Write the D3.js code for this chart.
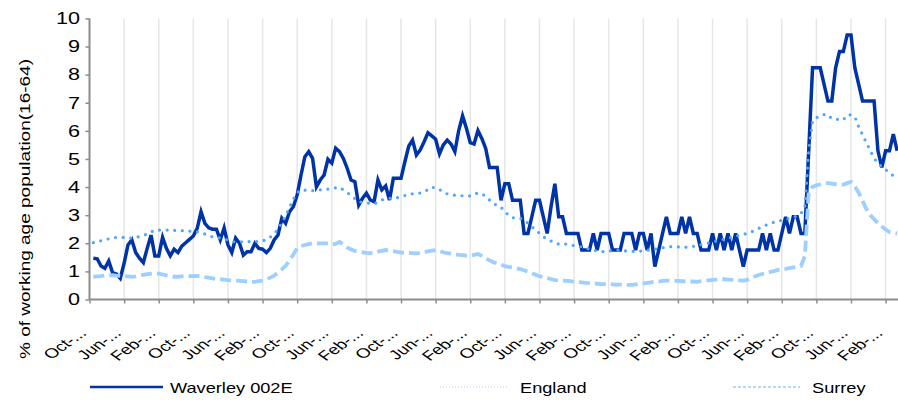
<!DOCTYPE html>
<html>
<head>
<meta charset="utf-8">
<script src="https://cdn.jsdelivr.net/npm/d3@7"></script>
<style>
  body { margin: 0; background: #fff; }
  text { font-family: "Liberation Sans", Arial, sans-serif; fill: #000; }
</style>
</head>
<body>
<svg id="chart" width="898" height="400"></svg>
<script>
// category tick labels (one every 9 points)
const tickLabels = ["Oct-...","Jun-...","Feb-...","Oct-...","Jun-...","Feb-...","Oct-...","Jun-...",
  "Feb-...","Oct-...","Jun-...","Feb-...","Oct-...","Jun-...","Feb-...","Oct-...",
  "Jun-...","Feb-...","Oct-...","Jun-...","Feb-...","Oct-...","Jun-...","Feb-..."];

const seriesNames = ["Waverley 002E", "England", "Surrey"];

const waverley = [1.47,1.45,1.19,1.11,1.37,0.95,0.91,0.75,1.29,1.94,
  2.12,1.67,1.47,1.31,1.82,2.29,1.55,1.55,2.21,1.82,
  1.55,1.79,1.67,1.90,2.02,2.14,2.26,2.53,3.12,2.71,
  2.55,2.50,2.50,2.12,2.55,1.94,1.67,2.18,2.00,1.58,
  1.70,1.70,2.00,1.82,1.79,1.67,1.82,2.12,2.29,2.89,
  2.71,3.12,3.30,3.72,4.43,5.08,5.26,5.02,4.01,4.25,
  4.43,4.99,4.85,5.38,5.26,5.02,4.67,4.25,4.19,3.36,
  3.60,3.78,3.54,3.48,4.25,3.90,4.04,3.54,4.31,4.31,
  4.31,4.90,5.45,5.67,5.14,5.32,5.61,5.93,5.82,5.70,
  5.18,5.50,5.67,5.53,5.26,6.01,6.53,6.09,5.58,5.53,
  6.01,5.73,5.38,4.70,4.70,4.70,3.53,4.12,4.12,3.53,
  3.53,3.53,2.35,2.35,2.94,3.53,3.53,2.94,2.35,3.30,
  4.12,2.94,2.94,2.35,2.35,2.35,2.35,1.76,1.76,1.76,
  2.35,1.76,2.35,2.35,2.35,1.76,1.76,1.76,2.35,2.35,
  2.35,1.76,2.35,2.35,1.76,2.35,1.17,1.76,2.35,2.94,
  2.35,2.35,2.35,2.94,2.35,2.94,2.35,2.35,1.76,1.76,
  1.76,2.35,1.76,2.35,1.76,2.35,1.76,2.35,1.76,1.17,
  1.76,1.76,1.76,1.76,2.35,1.76,2.35,1.76,1.76,2.35,
  2.94,2.35,2.94,2.94,2.35,2.35,5.29,8.24,8.24,8.24,
  7.65,7.06,7.06,8.24,8.82,8.82,9.41,9.41,8.24,7.65,
  7.06,7.06,7.06,7.06,5.29,4.70,5.29,5.29,5.88,5.29];

const england = [2.02,2.05,2.09,2.12,2.16,2.19,2.21,2.21,2.21,2.20,
  2.18,2.21,2.24,2.28,2.33,2.40,2.47,2.47,2.47,2.47,
  2.46,2.46,2.45,2.45,2.44,2.43,2.42,2.41,2.39,2.33,
  2.27,2.23,2.21,2.19,2.16,2.11,2.06,2.05,2.05,2.06,
  2.06,2.06,2.06,2.06,2.07,2.15,2.22,2.33,2.51,2.71,
  2.99,3.27,3.57,3.80,3.90,3.89,3.88,3.87,3.89,3.90,
  3.91,3.93,3.95,3.97,3.99,3.90,3.81,3.70,3.59,3.48,
  3.46,3.44,3.42,3.40,3.46,3.54,3.58,3.60,3.61,3.62,
  3.65,3.70,3.74,3.76,3.76,3.79,3.83,3.91,4.00,3.96,
  3.92,3.81,3.76,3.73,3.71,3.70,3.69,3.67,3.69,3.76,
  3.78,3.77,3.66,3.54,3.42,3.34,3.29,3.12,3.00,2.91,
  2.89,2.89,2.82,2.72,2.60,2.45,2.36,2.23,2.16,2.08,
  2.02,1.97,1.97,1.97,1.94,1.92,1.89,1.87,1.83,1.79,
  1.76,1.73,1.71,1.70,1.72,1.74,1.76,1.75,1.73,1.72,
  1.71,1.71,1.72,1.73,1.75,1.77,1.79,1.82,1.84,1.86,
  1.88,1.88,1.87,1.87,1.86,1.87,1.89,1.92,1.95,1.97,
  2.01,2.05,2.08,2.12,2.15,2.18,2.21,2.25,2.29,2.32,
  2.35,2.40,2.46,2.53,2.59,2.65,2.71,2.75,2.78,2.82,
  2.85,2.88,2.92,2.98,3.06,3.28,5.30,6.35,6.47,6.51,
  6.58,6.58,6.43,6.42,6.40,6.39,6.57,6.57,6.50,6.15,
  5.86,5.58,5.30,5.02,4.86,4.72,4.62,4.52,4.40,4.27];

const surrey = [0.81,0.82,0.83,0.85,0.86,0.87,0.85,0.84,0.83,0.82,
  0.81,0.82,0.85,0.88,0.90,0.92,0.94,0.92,0.89,0.86,
  0.83,0.81,0.81,0.82,0.82,0.83,0.83,0.84,0.83,0.80,
  0.78,0.75,0.73,0.72,0.71,0.69,0.68,0.67,0.66,0.65,
  0.64,0.63,0.63,0.65,0.67,0.71,0.78,0.85,0.96,1.07,
  1.20,1.40,1.60,1.82,1.90,1.94,1.97,2.00,2.00,2.00,
  2.00,2.00,1.96,1.98,2.05,1.96,1.85,1.78,1.73,1.69,
  1.68,1.66,1.65,1.66,1.70,1.73,1.76,1.74,1.72,1.69,
  1.67,1.67,1.66,1.65,1.64,1.65,1.68,1.71,1.74,1.76,
  1.72,1.68,1.65,1.63,1.61,1.59,1.58,1.56,1.56,1.59,
  1.62,1.55,1.47,1.39,1.33,1.28,1.24,1.19,1.16,1.14,
  1.11,1.08,1.04,0.99,0.94,0.88,0.83,0.79,0.76,0.73,
  0.69,0.68,0.67,0.66,0.65,0.63,0.62,0.61,0.59,0.58,
  0.57,0.56,0.55,0.55,0.54,0.54,0.53,0.53,0.53,0.52,
  0.52,0.54,0.56,0.57,0.59,0.61,0.63,0.64,0.66,0.67,
  0.67,0.66,0.66,0.65,0.65,0.64,0.64,0.63,0.65,0.66,
  0.68,0.70,0.71,0.72,0.72,0.71,0.70,0.69,0.68,0.67,
  0.70,0.76,0.82,0.87,0.91,0.94,0.98,1.01,1.05,1.07,
  1.09,1.12,1.14,1.16,1.19,1.55,3.80,4.01,4.06,4.10,
  4.15,4.14,4.12,4.10,4.08,4.09,4.14,4.18,4.02,3.80,
  3.51,3.22,3.00,2.86,2.72,2.60,2.49,2.40,2.37,2.35];

const yTicks = [0,1,2,3,4,5,6,7,8,9,10];

const svg = d3.select("#chart");
const SX = 1.35;          // the picture is drawn slightly wider than tall
const perTick = 9;        // points between labelled ticks
const step = 3.846;

const x = d3.scaleLinear()
  .domain([0, perTick * tickLabels.length])
  .range([89.5, 89.5 + step * perTick * tickLabels.length]);
const y = d3.scaleLinear().domain([0, 10]).range([299.5, 18.4]);

const tickPos = tickLabels.map((d, i) => i * perTick);

// vertical gridlines
svg.append("g")
  .selectAll("line")
  .data(tickPos.slice(1))
  .enter().append("line")
  .attr("x1", d => x(d)).attr("x2", d => x(d))
  .attr("y1", y(10)).attr("y2", y(0))
  .attr("stroke", "#e6e6e6")
  .attr("stroke-width", 1.5);

// x axis
const xAxis = svg.append("g")
  .attr("transform", "translate(0," + y(0) + ")")
  .call(d3.axisBottom(x).tickValues(tickPos).tickSize(4).tickFormat(""));
xAxis.select(".domain").attr("stroke", "#8c8c8c").attr("stroke-width", 2)
  .attr("d", "M89.5,0H898");
xAxis.selectAll(".tick line").attr("stroke", "#8c8c8c").attr("stroke-width", 1.5);

// y axis
const yAxis = svg.append("g")
  .attr("transform", "translate(89.5,0)")
  .call(d3.axisLeft(y).tickValues(yTicks).tickSize(4).tickFormat(""));
yAxis.select(".domain").attr("stroke", "#8c8c8c").attr("stroke-width", 2)
  .attr("d", "M0," + y(10) + "V" + y(0));
yAxis.selectAll(".tick line").attr("stroke", "#8c8c8c").attr("stroke-width", 1.5);

// y tick labels
svg.append("g")
  .selectAll("text")
  .data(yTicks)
  .enter().append("text")
  .attr("transform", d => "translate(80," + (y(d) + 5.8) + ") scale(" + SX + ",1)")
  .attr("text-anchor", "end")
  .attr("font-size", 16)
  .text(d => d);

// x tick labels
svg.append("g")
  .selectAll("text")
  .data(tickLabels)
  .enter().append("text")
  .attr("transform", (d, i) => "translate(" + (x(tickPos[i]) - 2) + ",334) scale(1.4,1) rotate(-45)")
  .attr("text-anchor", "end")
  .attr("font-size", 13.5)
  .text(d => d);

// y title
svg.append("text")
  .attr("transform", "translate(30,209) rotate(-90)")
  .attr("text-anchor", "middle")
  .attr("font-size", 15.5)
  .attr("textLength", 300)
  .attr("lengthAdjust", "spacingAndGlyphs")
  .text("% of working age population(16-64)");

// series
const line = d3.line()
  .x((d, i) => x(i + 1))
  .y(d => y(d));

const plot = svg.append("g");

plot.append("path")
  .datum(waverley)
  .attr("d", line)
  .attr("fill", "none")
  .attr("stroke", "#0033a6")
  .attr("stroke-width", 3.5)
  .attr("stroke-linejoin", "miter");

plot.append("path")
  .datum(england)
  .attr("d", line)
  .attr("fill", "none")
  .attr("stroke", "#4da6ff")
  .attr("stroke-width", 3.2)
  .attr("stroke-linecap", "round")
  .attr("stroke-dasharray", "0 7.6");

plot.append("path")
  .datum(surrey)
  .attr("d", line)
  .attr("fill", "none")
  .attr("stroke", "#9dcfff")
  .attr("stroke-width", 3.8)
  .attr("stroke-dasharray", "11 5");

// legend
const legend = [
  { x1: 90, x2: 163, tx: 170, stroke: "#0033a6", w: 2.5, dash: null },
  { x1: 440, x2: 508, tx: 520, stroke: "#c9def5", w: 1.5, dash: "1 2" },
  { x1: 733, x2: 800, tx: 812, stroke: "#9dcbf5", w: 1.5, dash: "3 2" }
];
const lg = svg.append("g");
legend.forEach((l, i) => {
  lg.append("line")
    .attr("x1", l.x1).attr("x2", l.x2)
    .attr("y1", 387).attr("y2", 387)
    .attr("stroke", l.stroke)
    .attr("stroke-width", l.w)
    .attr("stroke-dasharray", l.dash);
  lg.append("text")
    .attr("transform", "translate(" + l.tx + ",392.5) scale(1.3,1)")
    .attr("font-size", 14)
    .text(seriesNames[i]);
});
</script>
</body>
</html>
